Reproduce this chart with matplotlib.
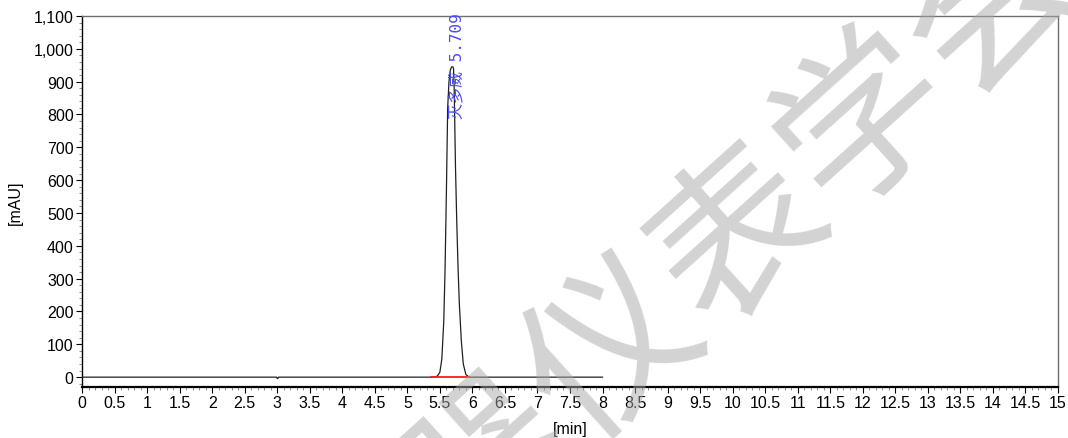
import matplotlib
matplotlib.use("Agg")
import matplotlib.pyplot as plt
from matplotlib.ticker import MultipleLocator, FuncFormatter

# ---- data ----
time_min = [0.00, 2.99, 3.00, 3.01, 3.02, 5.40, 5.46, 5.50, 5.53, 5.56, 5.58, 5.60,
            5.62, 5.64, 5.66, 5.68, 5.70, 5.71, 5.72, 5.74, 5.76, 5.78, 5.80,
            5.83, 5.86, 5.90, 5.95, 8.00]
signal_mau = [0, 0, -4, -4, 0, 0, 3, 15, 55, 170, 330, 560,
              820, 900, 935, 945, 945, 940, 880, 640, 470, 330, 220,
              110, 40, 8, 0, 0]
baseline_start = 5.37
baseline_end = 5.95
peak_name = "灭多威"
peak_rt = 5.709
peak_label_y = 790

x_ticks_major = 0.5
y_ticks_major = 100
watermark = "器仪表学会"   # visible part of the diagonal watermark

W, H = 1068, 439
fig = plt.figure(figsize=(W / 100, H / 100), dpi=100)
ax = fig.add_axes([82 / W, (H - 388) / H, (1058 - 82) / W, (388 - 17) / H])

ax.plot(time_min, signal_mau, color="#202020", lw=0.9, zorder=3)
ax.plot([baseline_start, baseline_end], [0, 0], color="#ff1a1a", lw=1.3, zorder=4)

ax.text(peak_rt + 0.06, peak_label_y, f"{peak_name} {peak_rt:.3f}", rotation=90,
        rotation_mode="anchor", ha="left", va="center", color="#4a4aff",
        fontsize=11.5, family=["DejaVu Sans Mono", "Noto Sans CJK SC"], clip_on=False)

ax.set_xlim(0, 15)
ax.set_ylim(-30, 1100)
ax.xaxis.set_major_locator(MultipleLocator(x_ticks_major))
ax.xaxis.set_minor_locator(MultipleLocator(0.1))
ax.yaxis.set_major_locator(MultipleLocator(y_ticks_major))
ax.yaxis.set_minor_locator(MultipleLocator(20))
ax.xaxis.set_major_formatter(FuncFormatter(lambda v, p: f"{v:g}"))
ax.yaxis.set_major_formatter(FuncFormatter(lambda v, p: f"{int(v):,}"))

ax.tick_params(which="major", direction="out", length=4, width=0.8, labelsize=11.5, pad=2)
ax.tick_params(which="minor", direction="out", length=2, width=0.6, color="#777777")
for lab in ax.get_xticklabels() + ax.get_yticklabels():
    lab.set_family("Liberation Sans")

for s in ("top", "right"):
    ax.spines[s].set_color("#707070")
    ax.spines[s].set_linewidth(1.0)
ax.spines["left"].set_color("#000000")
ax.spines["left"].set_linewidth(1.0)
ax.spines["bottom"].set_color("#000000")
ax.spines["bottom"].set_linewidth(1.6)

ax.set_xlabel("[min]", family="Liberation Sans", fontsize=11.5, labelpad=8)
ax.set_ylabel("[mAU]", family="Liberation Sans", fontsize=11.5, labelpad=8)

# watermark, placed character by character along a diagonal
cx0, cy0 = 740, 237   # centre of the character 表 in pixels, y downward
dx, dy = 126, -116
for i, ch in enumerate(watermark):
    px = cx0 + (i - 2) * dx
    py = cy0 + (i - 2) * dy
    fig.text(px / W, 1 - py / H, ch, rotation=42, rotation_mode="anchor",
             ha="center", va="center", fontsize=122, fontweight="medium",
             family="Noto Sans CJK SC", color="#a8a8a8", alpha=0.5, zorder=10)

fig.savefig("out.png", dpi=100)
